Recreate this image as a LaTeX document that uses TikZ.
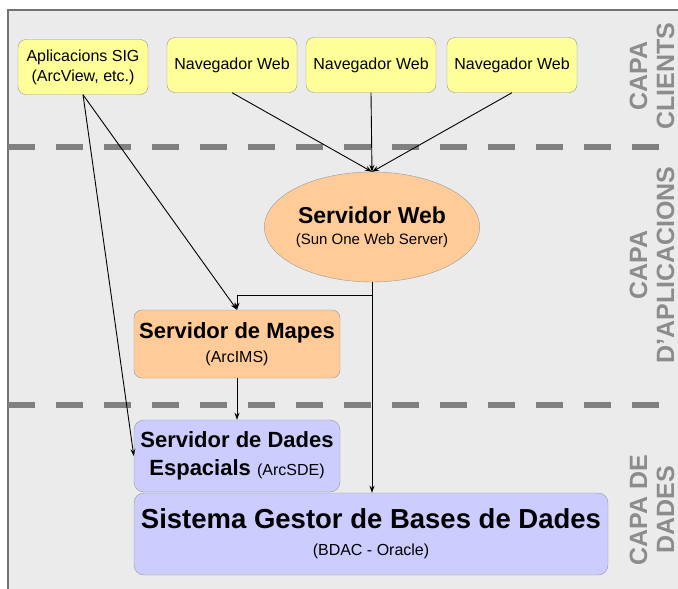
\documentclass[tikz,border=0pt]{standalone}
\usepackage{fontspec}
\setmainfont{Liberation Sans}
\usepackage{tikz}
\usetikzlibrary{shapes,arrows.meta}
\definecolor{fons}{RGB}{235,235,235}
\definecolor{groc}{RGB}{255,255,153}
\definecolor{taronja}{RGB}{255,204,153}
\definecolor{lila}{RGB}{204,204,255}

\begin{document}
\begin{tikzpicture}[x=1pt,y=-1pt,>={Stealth[length=7pt,width=5pt]}]
	\tikzstyle{client}=[draw=black!40,fill=groc,rounded corners=8pt,align=center,inner sep=2pt,minimum width=130pt,minimum height=55pt,font=\fontsize{16}{20}\selectfont]
	\tikzstyle{servidor}=[draw=black!40,fill=taronja,rounded corners=8pt,align=center,inner sep=2pt]
	\tikzstyle{dades}=[draw=black!40,fill=lila,rounded corners=10pt,align=center,inner sep=2pt]
	\tikzstyle{capa}=[rotate=90,text=black!45,align=center,font=\fontsize{25}{27}\selectfont\bfseries]
	\tikzstyle{separador}=[black!50,line width=6pt,dash pattern=on 27pt off 21pt]
	\tikzstyle{fletxa}=[->,line width=0.9pt]

	\useasboundingbox (0,0) rectangle (678,589);
	\fill[fons] (8,10) rectangle (678,589);
	\draw[black!55,line width=1.2pt] (8,589) -- (8,10) -- (678,10);

	% separadors de capes
	\coordinate (s1a) at (8,147);
	\coordinate (s1b) at (662,147);
	\coordinate (s2a) at (8,405);
	\coordinate (s2b) at (662,405);
	\draw[separador] (s1a) -- (s1b);
	\draw[separador] (s2a) -- (s2b);

	\node[capa] (clients) at (652,76) {CAPA\\CLIENTS};
	\node[capa] (aplicacions) at (652,265) {CAPA\\D'APLICACIONS};
	\node[capa] (dadescapa) at (652,510) {CAPA DE\\DADES};

	% clients
	\node[client] (sig) at (83,67) {Aplicacions SIG\\(ArcView, etc.)};
	\node[client] (nav1) at (232,65) {Navegador Web};
	\node[client] (nav2) at (371,65) {Navegador Web};
	\node[client] (nav3) at (512,65) {Navegador Web};

	% aplicacions
	\node[servidor,ellipse,minimum width=200pt,minimum height=110pt,inner sep=0pt,font=\fontsize{23}{21}\selectfont\bfseries] (web) at (372,227)
		{Servidor Web\\{\fontsize{15}{18}\selectfont\mdseries (Sun One Web Server)}};
	\node[servidor,minimum width=206pt,minimum height=68pt,font=\fontsize{22}{24}\selectfont\bfseries] (mapes) at (237,344)
		{Servidor de Mapes\\{\fontsize{16}{18}\selectfont\mdseries (ArcIMS)}};

	% dades
	\node[dades,minimum width=206pt,minimum height=72pt,font=\fontsize{22}{28}\selectfont\bfseries] (sde) at (237,456)
		{Servidor de Dades\\Espacials {\fontsize{16}{18}\selectfont\mdseries (ArcSDE)}};
	\node[dades,minimum width=474pt,minimum height=82pt,font=\fontsize{27.5}{27}\selectfont\bfseries] (sgbd) at (371,534)
		{Sistema Gestor de Bases de Dades\\{\fontsize{16}{18}\selectfont\mdseries (BDAC - Oracle)}};

	\coordinate (bif) at (web.south |- 0,295);

	\draw[fletxa] (nav1.south) -- (web.north);
	\draw[fletxa] (nav2.south) -- (web.north);
	\draw[fletxa] (nav3.south) -- (web.north);
	\draw[fletxa] (sig.south) -- (mapes.north);
	\draw[fletxa] (sig.south) -- (sde.west);
	\draw[fletxa] (web.south) -- (sgbd.north -| web.south);
	\draw[fletxa] (bif) -| (mapes.north);
	\draw[fletxa] (mapes.south) -- (sde.north);
\end{tikzpicture}
\end{document}
